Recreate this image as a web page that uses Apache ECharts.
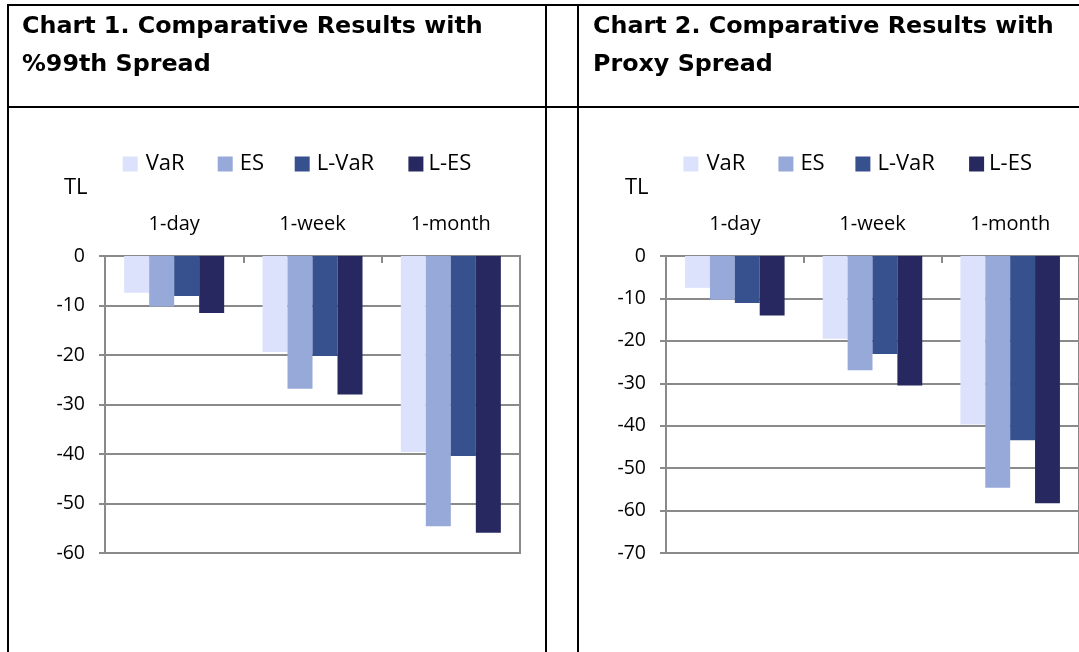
<!DOCTYPE html>
<html><head><meta charset="utf-8">
<script src="https://cdn.jsdelivr.net/npm/echarts@6/dist/echarts.min.js"></script>
<style>html,body{margin:0;padding:0;background:#fff;}#c{width:1079px;height:652px;}</style>
</head><body><div id="c"></div>
<script>
const categories = ['1-day', '1-week', '1-month'];
const seriesNames = ['VaR', 'ES', 'L-VaR', 'L-ES'];
const chart1VaR  = [-7.4, -19.4, -39.6];
const chart1ES   = [-10.2, -26.8, -54.6];
const chart1LVaR = [-8.1, -20.2, -40.4];
const chart1LES  = [-11.5, -28.0, -55.9];
const chart2VaR  = [-7.5, -19.5, -39.7];
const chart2ES   = [-10.3, -26.9, -54.6];
const chart2LVaR = [-11.1, -23.1, -43.4];
const chart2LES  = [-14.0, -30.5, -58.3];
const chart1Ticks = [0, -10, -20, -30, -40, -50, -60];
const chart2Ticks = [0, -10, -20, -30, -40, -50, -60, -70];
const chart1Title = 'Chart 1. Comparative Results with\n%99th Spread';
const chart2Title = 'Chart 2. Comparative Results with\nProxy Spread';
const unitLabel = 'TL';

const colors = ['#DCE1FC', '#97A9D8', '#37518F', '#26285F'];
const gridColor = '#8a8a8a';
const labelFont = 'Open Sans';

const chart = echarts.init(document.getElementById('c'), null, {renderer: 'canvas'});

function yAxisFor(ticks, gi) {
  return {
    type: 'value', gridIndex: gi,
    min: Math.min(...ticks), max: Math.max(...ticks), interval: Math.abs(ticks[1] - ticks[0]),
    axisLine: {show: true, lineStyle: {color: gridColor, width: 2}},
    axisTick: {show: true, inside: false, length: 6, lineStyle: {color: gridColor, width: 2}},
    splitLine: {show: true, lineStyle: {color: gridColor, width: 2}},
    axisLabel: {fontFamily: labelFont, fontSize: 19.5, color: '#000', margin: 20}
  };
}
function xAxisFor(gi) {
  return {
    type: 'category', gridIndex: gi, data: categories, position: 'top',
    axisLine: {show: true, onZero: false, lineStyle: {color: gridColor, width: 2}},
    axisTick: {show: true, inside: true, length: 7, lineStyle: {color: gridColor, width: 2}},
    axisLabel: {fontFamily: labelFont, fontSize: 20, color: '#000', margin: 22}
  };
}
const seriesData = [
  [chart1VaR, chart1ES, chart1LVaR, chart1LES],
  [chart2VaR, chart2ES, chart2LVaR, chart2LES]
];
const series = [];
seriesData.forEach((set, gi) => {
  set.forEach((vals, si) => {
    series.push({
      type: 'bar', name: seriesNames[si], data: vals,
      xAxisIndex: gi, yAxisIndex: gi,
      barGap: '0%', barCategoryGap: '27.7%',
      itemStyle: {color: colors[si]}
    });
  });
});

const richWidths = {VaR: 72, ES: 55, 'L-VaR': 91.7, 'L-ES': 50};
const richKeys = {VaR: 'a', ES: 'b', 'L-VaR': 'c', 'L-ES': 'd'};
const legendSize = 22;
function legendFor(left) {
  return {
    left: left, top: 153, orient: 'horizontal', padding: 0,
    itemWidth: 15, itemHeight: 15, itemGap: 0, icon: 'rect',
    data: seriesNames,
    formatter: n => '{' + richKeys[n] + '|' + n + '}',
    textStyle: {
      fontFamily: labelFont, fontSize: legendSize, color: '#000', lineHeight: 15,
      rich: {
        a: {width: richWidths['VaR'], fontFamily: labelFont, fontSize: legendSize, padding: [0, 0, 0, 3]},
        b: {width: richWidths['ES'], fontFamily: labelFont, fontSize: legendSize, padding: [0, 0, 0, 2]},
        c: {width: richWidths['L-VaR'], fontFamily: labelFont, fontSize: legendSize, padding: [0, 0, 0, 2]},
        d: {width: richWidths['L-ES'], fontFamily: labelFont, fontSize: legendSize, padding: [0, 0, 0, 0]}
      }
    }
  };
}
function titleFor(text, left) {
  return {
    text: text, left: left, top: 8, padding: 0,
    textStyle: {fontFamily: 'DejaVu Sans', fontWeight: 'bold', fontSize: 23.8, lineHeight: 38, color: '#000'}
  };
}
const lineStyle = {stroke: '#000', lineWidth: 2};
function ln(x1, y1, x2, y2) {
  return {type: 'line', silent: true, shape: {x1, y1, x2, y2}, style: lineStyle, z: 100};
}

chart.setOption({
  animation: false,
  backgroundColor: '#fff',
  title: [titleFor(chart1Title, 22), titleFor(chart2Title, 593)],
  legend: [legendFor(122.7), legendFor(683.4)],
  grid: [
    {left: 105, top: 256, width: 415, height: 297, show: true, borderColor: gridColor, borderWidth: 2, containLabel: false},
    {left: 666, top: 256, width: 415, height: 297, show: true, borderColor: gridColor, borderWidth: 2, containLabel: false}
  ],
  xAxis: [xAxisFor(0), xAxisFor(1)],
  yAxis: [yAxisFor(chart1Ticks, 0), yAxisFor(chart2Ticks, 1)],
  series: series,
  graphic: [
    ln(8, 5, 1079, 5),
    ln(8, 4, 8, 652),
    ln(7, 107, 1079, 107),
    ln(546, 4, 546, 652),
    ln(578, 4, 578, 652),
    {type: 'text', left: 64, top: 177, style: {text: unitLabel, font: '22px "Open Sans"', fill: '#000'}},
    {type: 'text', left: 625, top: 177, style: {text: unitLabel, font: '22px "Open Sans"', fill: '#000'}}
  ]
});
</script></body></html>
